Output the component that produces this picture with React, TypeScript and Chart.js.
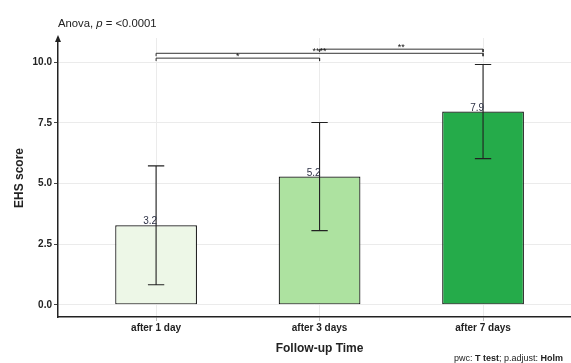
import { useEffect, useRef } from "react";
import { Chart, registerables } from "chart.js";

Chart.register(...registerables);

const categories = ["after 1 day", "after 3 days", "after 7 days"];
const means = [3.28, 5.29, 7.97];
const sds = [2.45, 2.23, 1.94];
const valueLabels = ["3.2", "5.2", "7.9"];
const barColors = ["#edf7e7", "#ade2a0", "#25ab4a"];
const yTicks = [0, 2.5, 5, 7.5, 10];
const bracketFrom = [0, 0, 1];
const bracketTo = [1, 2, 2];
const bracketY = [10.17, 10.37, 10.54];
const bracketLabels = ["*", "****", "**"];

const FONT = "'Liberation Sans', Arial, sans-serif";
const TIP = 0.12;
const CAP = 0.05;

const overlay = {
  id: "overlay",
  afterDatasetsDraw(chart: any) {
    const { ctx, scales } = chart;
    const x = scales.x;
    const y = scales.y;
    ctx.save();
    ctx.strokeStyle = "#222";
    ctx.lineWidth = 1.1;
    means.forEach((m, i) => {
      const cx = x.getPixelForValue(i);
      const top = y.getPixelForValue(m + sds[i]);
      const bot = y.getPixelForValue(m - sds[i]);
      const l = x.getPixelForValue(i - CAP);
      const r = x.getPixelForValue(i + CAP);
      ctx.beginPath();
      ctx.moveTo(cx, top);
      ctx.lineTo(cx, bot);
      ctx.moveTo(l, top);
      ctx.lineTo(r, top);
      ctx.moveTo(l, bot);
      ctx.lineTo(r, bot);
      ctx.stroke();
    });
    ctx.fillStyle = "#2e3246";
    ctx.font = `10px ${FONT}`;
    ctx.textAlign = "right";
    ctx.textBaseline = "alphabetic";
    means.forEach((m, i) => {
      ctx.fillText(valueLabels[i], x.getPixelForValue(i) + 1, y.getPixelForValue(m) - 1);
    });
    ctx.fillStyle = "#111";
    ctx.font = `9px ${FONT}`;
    ctx.textAlign = "center";
    bracketLabels.forEach((lab, i) => {
      const cx = (x.getPixelForValue(bracketFrom[i]) + x.getPixelForValue(bracketTo[i])) / 2;
      ctx.fillText(lab, cx, y.getPixelForValue(bracketY[i]) + 1);
    });
    ctx.restore();
  },
  afterDraw(chart: any) {
    const { ctx, chartArea } = chart;
    ctx.save();
    ctx.fillStyle = "#222";
    ctx.beginPath();
    ctx.moveTo(chartArea.left, chartArea.top - 3);
    ctx.lineTo(chartArea.left - 3, chartArea.top + 4);
    ctx.lineTo(chartArea.left + 3, chartArea.top + 4);
    ctx.closePath();
    ctx.fill();
    ctx.fillStyle = "#222";
    ctx.textBaseline = "middle";
    ctx.textAlign = "left";
    let tx = chartArea.left;
    const parts: [string, string][] = [
      ["Anova, ", `11.3px ${FONT}`],
      ["p", `italic 11.3px ${FONT}`],
      [" = <0.0001", `11.3px ${FONT}`],
    ];
    parts.forEach(([t, f]) => {
      ctx.font = f;
      ctx.fillText(t, tx, 24);
      tx += ctx.measureText(t).width;
    });
    ctx.font = `bold 12px ${FONT}`;
    ctx.textAlign = "center";
    ctx.fillText("Follow-up Time", chart.scales.x.getPixelForValue(1), 349);
    ctx.save();
    ctx.translate(20, (chartArea.top + chartArea.bottom) / 2 + 0.5);
    ctx.rotate(-Math.PI / 2);
    ctx.fillText("EHS score", 0, 0);
    ctx.restore();
    const cap: [string, string][] = [
      ["pwc: ", `9px ${FONT}`],
      ["T test", `bold 9px ${FONT}`],
      ["; p.adjust: ", `9px ${FONT}`],
      ["Holm", `bold 9px ${FONT}`],
    ];
    let total = 0;
    cap.forEach(([t, f]) => {
      ctx.font = f;
      total += ctx.measureText(t).width;
    });
    let cx = 563 - total;
    ctx.textAlign = "left";
    cap.forEach(([t, f]) => {
      ctx.font = f;
      ctx.fillText(t, cx, 359);
      cx += ctx.measureText(t).width;
    });
    ctx.restore();
  },
};

export default function App() {
  const ref = useRef<HTMLCanvasElement>(null);
  useEffect(() => {
    document.body.style.margin = "0";
    const bracketSets = bracketFrom.map((f, i) => ({
      type: "line" as const,
      data: [
        { x: f, y: bracketY[i] - TIP },
        { x: f, y: bracketY[i] },
        { x: bracketTo[i], y: bracketY[i] },
        { x: bracketTo[i], y: bracketY[i] - TIP },
      ],
      borderColor: "#333",
      borderWidth: 1,
      pointRadius: 0,
      fill: false,
      tension: 0,
    }));
    const chart = new Chart(ref.current!, {
      type: "bar",
      data: {
        datasets: [
          {
            type: "bar",
            data: means.map((m, i) => ({ x: i, y: m })),
            backgroundColor: barColors,
            borderColor: "#111",
            borderWidth: 1.2,
            borderSkipped: false,
            barPercentage: 0.5,
            categoryPercentage: 1,
          } as any,
          ...bracketSets,
        ],
      },
      options: {
        animation: false,
        responsive: false,
        layout: { padding: { top: 38, left: 0, right: 0, bottom: 0 } },
        plugins: { legend: { display: false }, tooltip: { enabled: false } },
        scales: {
          x: {
            type: "linear",
            min: -0.6,
            max: 2.538,
            offset: false,
            afterBuildTicks: (s: any) => {
              s.ticks = categories.map((_, i) => ({ value: i }));
            },
            afterFit: (s: any) => {
              s.height = 46;
            },
            ticks: {
              callback: (v: any) => categories[v],
              font: { family: FONT, size: 10, weight: "bold" },
              color: "#222",
              padding: 1,
              maxRotation: 0,
            },
            grid: { offset: false, color: "#ebebeb", tickColor: "#bbb", tickLength: 4, lineWidth: 1 },
            border: { display: true, color: "#222", width: 1.5 },
          },
          y: {
            type: "linear",
            min: -0.5,
            max: 11,
            afterBuildTicks: (s: any) => {
              s.ticks = yTicks.map((v) => ({ value: v }));
            },
            afterFit: (s: any) => {
              s.width = 58;
            },
            ticks: {
              callback: (v: any) => Number(v).toFixed(1),
              font: { family: FONT, size: 10, weight: "bold" },
              color: "#222",
              padding: 2,
            },
            grid: { color: "#ebebeb", tickColor: "#444", tickLength: 4, lineWidth: 1 },
            border: { display: true, color: "#222", width: 1.5 },
          },
        },
      },
      plugins: [overlay],
    });
    return () => chart.destroy();
  }, []);
  return (
    <div style={{ width: 571, height: 363 }}>
      <canvas ref={ref} width={571} height={363} style={{ display: "block" }} />
    </div>
  );
}
